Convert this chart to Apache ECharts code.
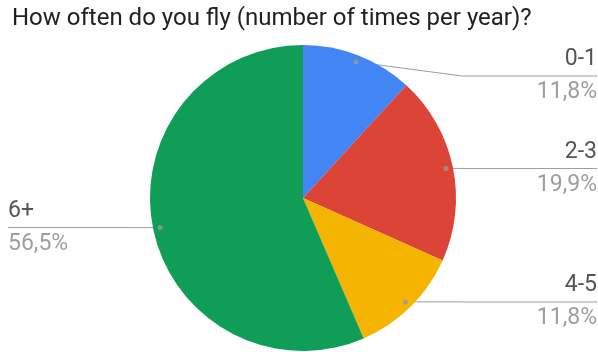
<!DOCTYPE html>
<html>
<head>
<meta charset="utf-8">
<script src="https://cdn.jsdelivr.net/npm/echarts@6/dist/echarts.min.js"></script>
<style>
  html, body { margin: 0; padding: 0; background: #fff; }
  #chart { width: 598px; height: 352px; }
</style>
</head>
<body>
<div id="chart"></div>
<script>
// Survey answers: flights per year, share of respondents (%)
const titleText = 'How often do you fly (number of times per year)?';
const categories = ['0-1', '2-3', '4-5', '6+'];
const shares = [11.8, 19.9, 11.8, 56.5];
const sliceColors = ['#4285F4', '#DB4437', '#F4B400', '#0F9D58'];

// Layout constants
const CENTER = [303, 198];
const RADIUS = 153;
const ANCHOR_RADIUS = 146;     // where leader lines start inside each slice
const LABEL_MIN_TOP = 48;      // keep label blocks below the title
const RULE_RIGHT = 135;        // underline width for labels on the right
const RULE_LEFT = 120;         // underline width for labels on the left
const FONT = 'Roboto, "Noto Sans", sans-serif';
const GUIDE = '#9e9e9e';

const total = shares.reduce((a, b) => a + b, 0);
const fmtPct = v => v.toFixed(1).replace('.', ',') + '%';

const pieData = categories.map((c, i) => ({
  name: c,
  value: shares[i],
  itemStyle: { color: sliceColors[i] }
}));

// label host slices (invisible); left-hand labels sit 8px in from the edge
let acc = 0;
const labelData = categories.map((c, i) => {
  const mid = acc + shares[i] / 2;
  acc += shares[i];
  const onLeft = mid > total / 2;
  return {
    name: c,
    value: shares[i],
    label: { edgeDistance: onLeft ? 8 : 1, rich: { hr: { width: onLeft ? RULE_LEFT : RULE_RIGHT } } }
  };
});

// anchor dots at mid-angle of each slice
let acc2 = 0;
const dotData = shares.map(s => {
  const mid = acc2 + s / 2;
  acc2 += s;
  return [ANCHOR_RADIUS, mid];
});

const chart = echarts.init(document.getElementById('chart'), null, { renderer: 'canvas' });

chart.setOption({
  animation: false,
  backgroundColor: '#fff',
  title: {
    text: titleText,
    left: 7,
    top: 2,
    textStyle: { fontFamily: FONT, fontSize: 24, fontWeight: 'normal', color: '#212121' }
  },
  polar: { center: CENTER, radius: RADIUS },
  angleAxis: {
    type: 'value', min: 0, max: total, startAngle: 90, clockwise: true,
    show: false, axisLine: { show: false }, splitLine: { show: false }, axisLabel: { show: false }, axisTick: { show: false }
  },
  radiusAxis: {
    type: 'value', min: 0, max: RADIUS,
    show: false, axisLine: { show: false }, splitLine: { show: false }, axisLabel: { show: false }, axisTick: { show: false }
  },
  series: [
    {
      type: 'pie',
      center: CENTER,
      radius: RADIUS,
      startAngle: 90,
      clockwise: true,
      silent: true,
      label: { show: false },
      labelLine: { show: false },
      itemStyle: { borderWidth: 0 },
      data: pieData
    },
    {
      type: 'pie',
      center: CENTER,
      radius: ANCHOR_RADIUS,
      startAngle: 90,
      clockwise: true,
      silent: true,
      avoidLabelOverlap: false,
      itemStyle: { color: 'rgba(0,0,0,0)', borderWidth: 0 },
      label: {
        show: true,
        position: 'outer',
        alignTo: 'edge',
        formatter: p => `{n|${p.name}}\n{hr|}\n{v|${fmtPct(p.value)}}`,
        rich: {
          n: { fontFamily: FONT, fontSize: 23, lineHeight: 32, color: '#555555' },
          hr: { height: 1, lineHeight: 1, backgroundColor: GUIDE },
          v: { fontFamily: FONT, fontSize: 23, lineHeight: 32, color: '#9e9e9e' }
        }
      },
      labelLine: { show: true, length: 0, length2: 0, lineStyle: { color: GUIDE, width: 1 } },
      labelLayout: function (p) {
        const r = p.labelRect;
        const dy = Math.max(0, LABEL_MIN_TOP - r.y);
        const start = p.labelLinePoints[0];
        const onRight = r.x > start[0];
        const midY = r.y + dy + r.height / 2;
        const endX = onRight ? r.x : r.x + r.width;
        return { dy: dy, labelLinePoints: [start, [endX, midY]] };
      },
      data: labelData
    },
    {
      type: 'scatter',
      coordinateSystem: 'polar',
      silent: true,
      symbol: 'circle',
      symbolSize: 5,
      itemStyle: { color: '#999999' },
      z: 5,
      data: dotData
    }
  ]
});
</script>
</body>
</html>
